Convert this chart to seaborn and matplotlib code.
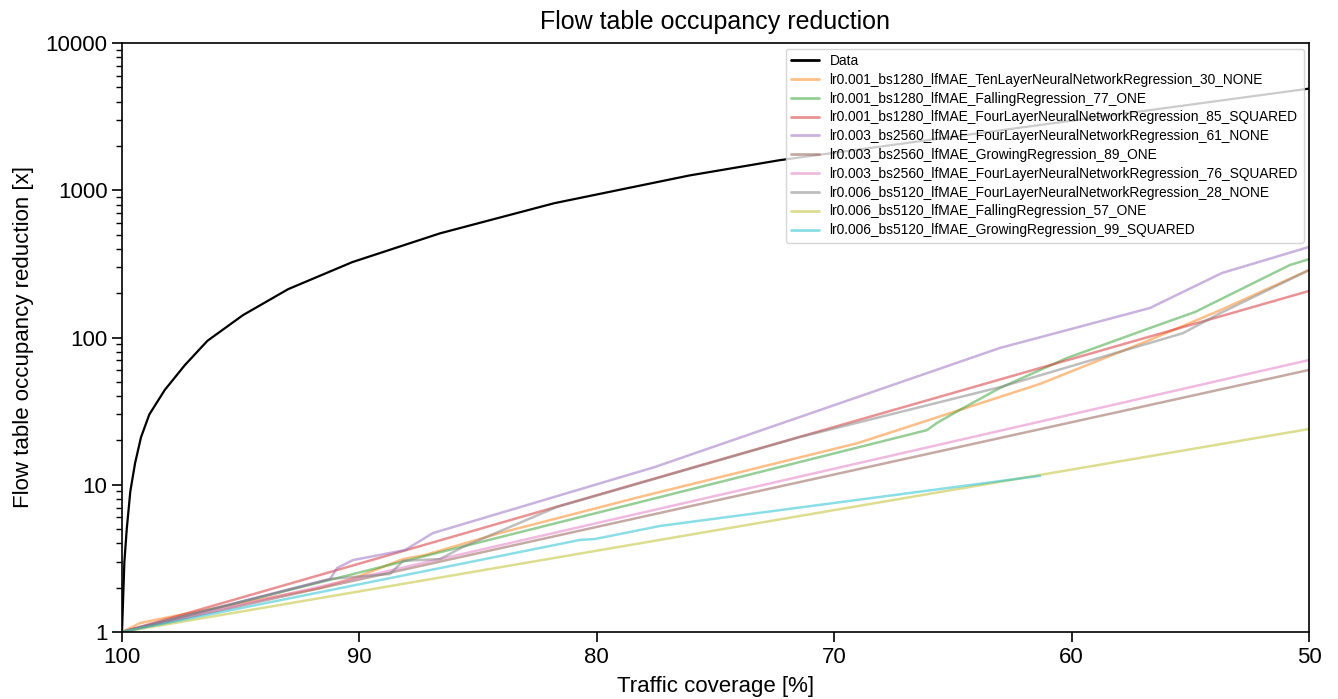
import numpy as np
import pandas as pd
import matplotlib
matplotlib.use("Agg")
import matplotlib.pyplot as plt
import seaborn as sns
from matplotlib.ticker import LogLocator, FixedLocator, NullFormatter, FuncFormatter

sns.set_style("ticks")
plt.rcParams['font.family'] = ['Liberation Sans', 'DejaVu Sans']
plt.rcParams['text.color'] = 'black'
plt.rcParams['axes.labelcolor'] = 'black'
plt.rcParams['xtick.color'] = 'black'
plt.rcParams['ytick.color'] = 'black'

# ---- data ----
data_x = [100, 99.9, 99.8, 99.65, 99.45, 99.2, 98.85, 98.2, 97.35, 96.4, 94.9, 93.0,
          90.3, 86.6, 81.8, 76.1, 72.3, 50]
data_y = [1, 3, 5, 9, 14, 21, 30, 44, 65, 95, 142, 213, 325, 510, 816, 1260, 1600, 4900]

names = [
    "lr0.001_bs1280_lfMAE_TenLayerNeuralNetworkRegression_30_NONE",
    "lr0.001_bs1280_lfMAE_FallingRegression_77_ONE",
    "lr0.001_bs1280_lfMAE_FourLayerNeuralNetworkRegression_85_SQUARED",
    "lr0.003_bs2560_lfMAE_FourLayerNeuralNetworkRegression_61_NONE",
    "lr0.003_bs2560_lfMAE_GrowingRegression_89_ONE",
    "lr0.003_bs2560_lfMAE_FourLayerNeuralNetworkRegression_76_SQUARED",
    "lr0.006_bs5120_lfMAE_FourLayerNeuralNetworkRegression_28_NONE",
    "lr0.006_bs5120_lfMAE_FallingRegression_57_ONE",
    "lr0.006_bs5120_lfMAE_GrowingRegression_99_SQUARED",
]

ten30_x = [100, 99.24, 98.48, 91.66, 90.10, 88.16, 87.24, 84.08, 78.18, 69.0, 61.33, 56.70, 53.75, 50]
ten30_y = [1, 1.15, 1.22, 1.99, 2.36, 3.13, 3.33, 4.70, 8.27, 19.2, 48.4, 96.3, 153, 287]

fall77_x = [100, 66.09, 65.67, 64.70, 63.02, 60.19, 56.70, 54.80, 50.80, 50]
fall77_y = [1, 23.5, 26.3, 32.3, 45.4, 72.6, 116, 149, 311, 340]

four85_x = [100, 75, 50]
four85_y = [1, 14.5, 207]

four61_x = [100, 91.24, 90.94, 90.27, 88.08, 86.90, 77.55, 63.02, 56.70, 53.67, 50]
four61_y = [1, 2.29, 2.72, 3.08, 3.60, 4.70, 13.2, 84.9, 158.6, 274, 412]

grow89_x = [100, 75, 50]
grow89_y = [1, 7.8, 60.2]

four76_x = [100, 75, 50]
four76_y = [1, 8.4, 70.3]

four28_x = [100, 91.24, 88.71, 88.16, 86.6, 85.64, 81.68, 71.44, 63.02, 55.31, 53.75, 50]
four28_y = [1, 2.29, 2.48, 3.04, 3.13, 3.78, 7.06, 21.1, 46.0, 107, 146, 287]

fall57_x = [100, 75, 50]
fall57_y = [1, 4.9, 23.9]

grow99_x = [100, 84.08, 80.71, 80.08, 77.34, 61.33]
grow99_y = [1, 3.28, 4.22, 4.28, 5.25, 11.5]

series_x = [ten30_x, fall77_x, four85_x, four61_x, grow89_x, four76_x, four28_x, fall57_x, grow99_x]
series_y = [ten30_y, fall77_y, four85_y, four61_y, grow89_y, four76_y, four28_y, fall57_y, grow99_y]

x_ticks = [100, 90, 80, 70, 60, 50]
y_ticks = [1, 10, 100, 1000, 10000]

# ---- plot ----
fig = plt.figure(figsize=(13.38, 6.99), dpi=100)
ax = fig.add_axes([122 / 1338, 1 - 632 / 699, (1309 - 122) / 1338, (632 - 43) / 699])

sns.lineplot(x=data_x, y=data_y, ax=ax, color="black", linewidth=1.6, label="Data",
             sort=False, estimator=None)

palette = sns.color_palette("tab10")[1:10]
for name, xs, ys, c in zip(names, series_x, series_y, palette):
    sns.lineplot(x=xs, y=ys, ax=ax, color=c, alpha=0.5, linewidth=1.8, label=name,
                 sort=False, estimator=None)

ax.set_yscale("log")
ax.set_xlim(100, 50)
ax.set_ylim(1, 10000)
ax.xaxis.set_major_locator(FixedLocator(x_ticks))
ax.yaxis.set_major_locator(FixedLocator(y_ticks))
ax.yaxis.set_major_formatter(FuncFormatter(lambda v, p: f"{int(round(v))}"))
ax.yaxis.set_minor_locator(LogLocator(base=10, subs=np.arange(2, 10)))
ax.yaxis.set_minor_formatter(NullFormatter())

for s in ax.spines.values():
    s.set_visible(True)
    s.set_linewidth(1.2)
    s.set_color("black")

ax.tick_params(axis="both", which="major", labelsize=16, length=7, width=1.2,
               color="black", labelcolor="black")
ax.tick_params(axis="y", which="minor", length=4, width=1.0, color="black")

ax.set_title("Flow table occupancy reduction", fontsize=18, pad=10, color="black")
ax.set_xlabel("Traffic coverage [%]", fontsize=16, labelpad=6)
ax.set_ylabel("Flow table occupancy reduction [x]", fontsize=16, labelpad=8)

leg = ax.legend(loc="upper right", fontsize=9.9, framealpha=0.8, handlelength=2.0,
                labelspacing=0.35, borderaxespad=0.4)
for lh in leg.get_lines():
    lh.set_linewidth(2.0)

fig.savefig("out.png", dpi=100)
